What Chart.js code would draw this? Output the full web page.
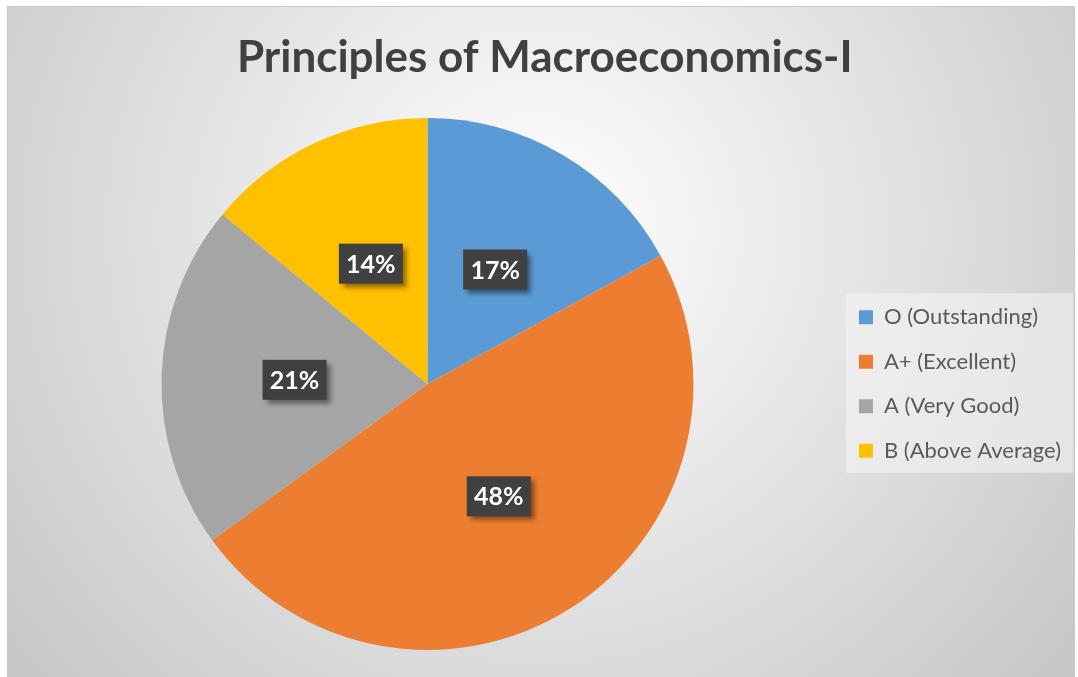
<!DOCTYPE html>
<html>
<head>
<meta charset="utf-8">
<script src="https://cdn.jsdelivr.net/npm/chart.js@4.4.1/dist/chart.umd.min.js"></script>
<style>
  html, body { margin: 0; padding: 0; background: #ffffff; }
  #chart1 { display: block; }
</style>
</head>
<body>
<canvas id="chart1" width="1078" height="677" style="width:1078px;height:677px"></canvas>
<script>
// pie data
const categories = ["O (Outstanding)", "A+ (Excellent)", "A (Very Good)", "B (Above Average)"];
const shares = [17, 48, 21, 14];
const sliceColors = ["#5B9BD5", "#ED7D31", "#A5A5A5", "#FFC000"];
const chartTitle = "Principles of Macroeconomics-I";

// gray gradient panel behind everything + box behind legend
const panelBg = {
    id: "panelBg",
    beforeDraw(chart) {
        const c = chart.ctx;
        c.save();
        const g = c.createRadialGradient(540, 230, 0, 540, 230, 720);
        g.addColorStop(0, "#ffffff");
        g.addColorStop(1, "#c4c4c4");
        c.fillStyle = g;
        c.fillRect(7, 6, 1068, 672);
        c.strokeStyle = "#c8c8c8";
        c.lineWidth = 1;
        c.strokeRect(7.5, 6.5, 1067, 680);

        const boxes = chart.legend.legendHitBoxes;
        if (boxes && boxes.length) {
            const first = boxes[0], last = boxes[boxes.length - 1];
            let right = 0;
            boxes.forEach(b => { right = Math.max(right, b.left + b.width); });
            const top = first.top + first.height / 2 - 24;
            const bottom = last.top + last.height / 2 + 22;
            c.fillStyle = "rgba(245,245,245,0.55)";
            c.fillRect(first.left - 13, top, right - first.left + 25, bottom - top);
        }
        c.restore();
    }
};

// dark percentage boxes on each slice
const pctLabels = {
    id: "pctLabels",
    afterDatasetsDraw(chart) {
        const c = chart.ctx;
        const total = shares.reduce((a, b) => a + b, 0);
        chart.getDatasetMeta(0).data.forEach((arc, i) => {
            const p = arc.getCenterPoint();
            const txt = Math.round(shares[i] / total * 100) + "%";
            const w = 64, h = 40;
            c.save();
            c.shadowColor = "rgba(0,0,0,0.45)";
            c.shadowBlur = 5;
            c.shadowOffsetX = 4;
            c.shadowOffsetY = 4;
            c.fillStyle = "#404040";
            c.fillRect(p.x - w / 2, p.y - h / 2, w, h);
            c.restore();
            c.save();
            c.fillStyle = "#ffffff";
            c.font = "bold 25px Lato";
            c.textAlign = "center";
            c.textBaseline = "middle";
            c.fillText(txt, p.x, p.y + 1);
            c.restore();
        });
    }
};

let ctx1 = document.getElementById("chart1").getContext("2d");
let chart1 = new Chart(ctx1, {
    type: "pie",
    data: {
        labels: categories,
        datasets: [{
            data: shares,
            backgroundColor: sliceColors,
            borderWidth: 0
        }]
    },
    options: {
        responsive: false,
        animation: false,
        layout: { padding: { top: 10, bottom: 27, left: 18.5, right: 7 } },
        plugins: {
            title: {
                display: true,
                text: chartTitle,
                color: "#404040",
                font: { family: "Lato", size: 44, weight: "bold", lineHeight: 1.2 },
                padding: { top: 21.5, bottom: 33.7 }
            },
            legend: {
                position: "right",
                fullSize: false,
                labels: {
                    color: "#595959",
                    font: { family: "Lato", size: 22 },
                    boxWidth: 14,
                    boxHeight: 14,
                    padding: 22.5
                }
            },
            tooltip: { enabled: false }
        }
    },
    plugins: [panelBg, pctLabels]
});
</script>
</body>
</html>
